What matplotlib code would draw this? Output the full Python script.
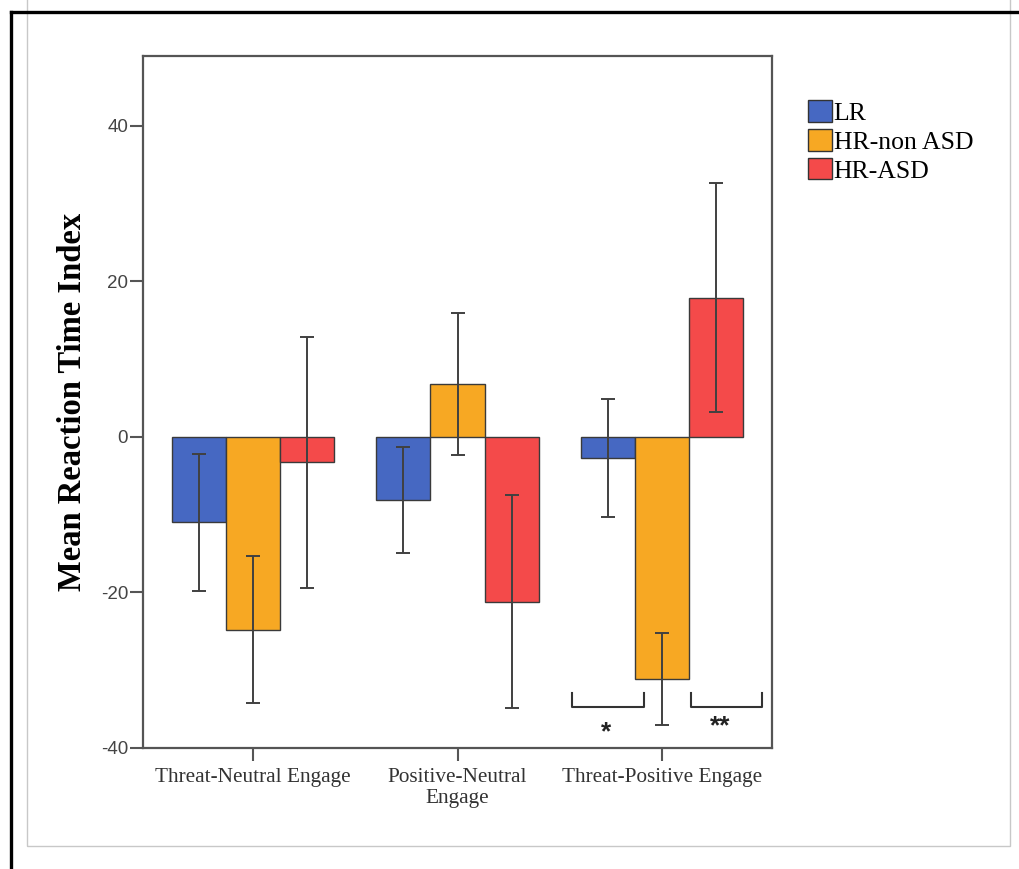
import matplotlib
matplotlib.use("Agg")
import matplotlib.pyplot as plt
from matplotlib.lines import Line2D
from matplotlib.patches import Rectangle
import numpy as np

# dados
categorias = ["Threat-Neutral Engage", "Positive-Neutral\nEngage", "Threat-Positive Engage"]
grupos = ["LR", "HR-non ASD", "HR-ASD"]
cores = ["#4668c2", "#f7a823", "#f44a4a"]

media_lr = [-11.0, -8.1, -2.7]
media_hr = [-24.8, 6.8, -31.2]
media_asd = [-3.3, -21.2, 17.9]

erro_lr = [8.8, 6.8, 7.6]
erro_hr = [9.4, 9.1, 5.9]
erro_asd = [16.1, 13.7, 14.7]

y_ticks = [-40, -20, 0, 20, 40]

medias = [media_lr, media_hr, media_asd]
erros = [erro_lr, erro_hr, erro_asd]

serif = "Liberation Serif"
sans = "Liberation Sans"
plt.rcParams["axes.unicode_minus"] = False

fig = plt.figure(figsize=(10.19, 8.69), dpi=100)
ax = fig.add_axes([0.140, 0.1396, 0.618, 0.796])

x = np.arange(len(categorias))
larg = 0.265
for i, nome in enumerate(grupos):
    pos = x + (i - 1) * larg
    ax.bar(pos, medias[i], width=larg, color=cores[i], edgecolor="#3a3a3a",
           linewidth=1.0, label=nome, zorder=2)
    ax.errorbar(pos, medias[i], yerr=erros[i], fmt="none", ecolor="#404040",
                elinewidth=1.4, capsize=5, capthick=1.4, zorder=3)

ax.set_xlim(-0.54, 2.54)
ax.set_ylim(-40, 49)
ax.set_yticks(y_ticks)
ax.set_xticks(x)
ax.set_xticklabels(categorias, fontfamily=serif, fontsize=15.3, color="#333333",
                   linespacing=1.15)
for t in ax.get_yticklabels():
    t.set_fontfamily(sans)
    t.set_fontsize(13.5)
    t.set_color("#444444")
ax.tick_params(axis="both", direction="out", length=9.5, width=1.5, color="#555555")
ax.tick_params(axis="x", pad=5)
ax.tick_params(axis="y", pad=1)
for s in ax.spines.values():
    s.set_color("#555555")
    s.set_linewidth(1.6)

ax.set_ylabel("Mean Reaction Time Index", fontfamily=serif, fontweight="bold",
              fontsize=23.5, labelpad=9)

# colchetes de significancia
for x0, x1, txt, ty in [(1.56, 1.91, "*", -38.0), (2.14, 2.49, "**", -37.2)]:
    ax.plot([x0, x0, x1, x1], [-32.9, -34.8, -34.8, -32.9], color="#333333", lw=1.5,
            clip_on=False)
    ax.text((x0 + x1) / 2 - (0.01 if txt == "*" else 0.03), ty, txt, ha="center",
            va="center", fontsize=19, fontweight="bold", color="#222222",
            fontfamily=sans)

leg = ax.legend(loc="upper left", bbox_to_anchor=(1.056, 0.936), frameon=False,
                prop={"family": serif, "size": 18.5}, handlelength=0.93,
                handleheight=0.92, handletextpad=0.08, labelspacing=0.16,
                borderpad=0, borderaxespad=0)
for h in leg.legend_handles:
    h.set_edgecolor("#333333")

# molduras
fig.add_artist(Rectangle((27 / 1019, 1 - 846 / 869), (1010 - 27) / 1019, 2,
                         transform=fig.transFigure, fill=False, edgecolor="#c8c8c8",
                         lw=1.0))
fig.add_artist(Line2D([11 / 1019, 11 / 1019], [0, 1 - 12 / 869], transform=fig.transFigure,
                      color="black", lw=2.4))
fig.add_artist(Line2D([11 / 1019, 1], [1 - 12 / 869, 1 - 12 / 869], transform=fig.transFigure,
                      color="black", lw=2.4))

fig.savefig("out.png", dpi=100)
